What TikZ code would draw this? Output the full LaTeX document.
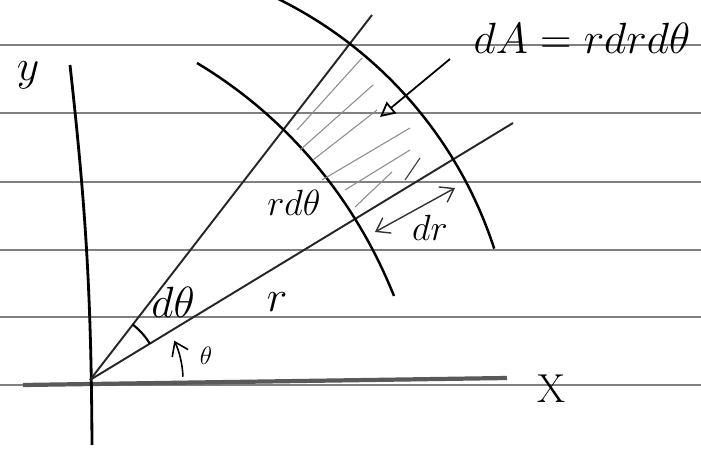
\documentclass[tikz,border=0pt]{standalone}
\usetikzlibrary{arrows.meta}
\begin{document}
\begin{tikzpicture}[
        paperline/.style={black!50, line width=0.9pt},
        axisline/.style={black, line width=1.6pt},
        xaxisline/.style={black!65, line width=2.4pt},
        rayline/.style={black!85, line width=1.1pt},
        arcline/.style={black, line width=1.4pt},
        hatchline/.style={black!45, line width=0.6pt},
        hand/.style={inner sep=1pt},
        barb/.style={-{Straight Barb[length=2.5mm,width=3.5mm]}}
    ]

        \useasboundingbox (-1.8,-1.4) rectangle (12.22,7.6);
        \fill[white] (-1.8,-1.4) rectangle (12.22,7.6);
        \clip (-1.8,-1.4) rectangle (12.22,7.6);

        \foreach \yy in {6.7,5.34,3.96,2.6,1.26,-0.1}
            \draw[paperline] (-1.8,\yy) -- (12.22,\yy);

        \coordinate (O) at (0,0);
        \coordinate (ytop) at (-0.4,6.3);
        \coordinate (ybot) at (0.04,-1.3);
        \coordinate (xleft) at (-1.34,-0.1);
        \coordinate (xright) at (8.34,0.04);
        \coordinate (rayr) at (8.46,5.14);
        \coordinate (raydth) at (5.64,7.3);

        \draw[xaxisline] (xleft) -- (xright);
        \draw[axisline] (ybot) to[bend right=3] (ytop);
        \draw[rayline] (O) -- (rayr);
        \draw[rayline] (O) -- (raydth);

        \draw[arcline] (2.14,6.34) .. controls (3.94,5.26) and (5.3,3.63) .. (6.08,1.68);
        \draw[arcline] (64:8.5) arc[start angle=64, end angle=18, radius=8.5];

        \draw[hatchline] (4.14,5.0) -- (5.44,6.44);
        \draw[hatchline] (4.2,4.6) -- (5.66,5.9);
        \draw[hatchline] (4.46,4.4) -- (5.74,5.4);
        \draw[hatchline] (4.64,4.0) -- (6.4,5.04);
        \draw[hatchline] (5.1,3.8) -- (6.4,4.6);
        \draw[hatchline] (5.3,3.46) -- (6.04,4.16);
        \draw[hatchline, black!80] (6.3,4.0) -- (6.6,4.44);

        \draw[arcline, line width=1.2pt] (31.3:1.4) arc[start angle=31.3, end angle=52.5, radius=1.4];
        \draw[barb, line width=0.9pt] (2:1.86) arc[start angle=2, end angle=25, radius=1.86];

        \node[hand, font=\fontsize{30}{34}\selectfont] (ylbl) at (-1.24,6.1) {$y$};
        \node[hand, font=\fontsize{23}{27}\selectfont] (xlbl) at (9.24,-0.18) {X};
        \node[hand, font=\fontsize{20}{24}\selectfont] (rdthlbl) at (4.08,3.54) {$rd\theta$};
        \node[hand, font=\fontsize{22}{26}\selectfont] (drlbl) at (6.8,3.04) {$dr$};
        \node[hand, font=\fontsize{28}{32}\selectfont] (rlbl) at (3.74,1.56) {$r$};
        \node[hand, font=\fontsize{23}{27}\selectfont] (dthlbl) at (1.66,1.56) {$d\theta$};
        \node[hand, font=\fontsize{14}{17}\selectfont] (thlbl) at (2.32,0.48) {$\theta$};
        \node[hand, font=\fontsize{26}{30}\selectfont] (dAlbl) at (9.84,6.84) {$dA=rdrd\theta$};

        \coordinate (drA) at (5.7,2.96);
        \coordinate (drB) at (7.3,3.84);
        \draw[{Straight Barb[length=2.5mm,width=3.5mm]}-{Straight Barb[length=2.5mm,width=3.5mm]},
            black!80, line width=0.8pt] (drA) -- (drB);

        \coordinate (dAtail) at (7.2,6.42);
        \coordinate (dAhead) at (5.8,5.26);
        \draw[-{Triangle[open,length=3mm,width=3mm]}, line width=1pt] (dAtail) -- (dAhead);

    \end{tikzpicture}
\end{document}
